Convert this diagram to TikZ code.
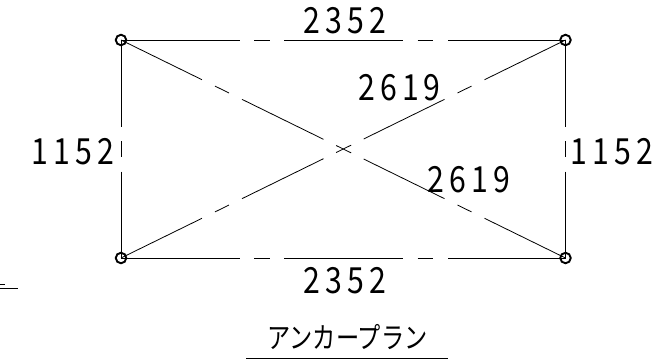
\documentclass[tikz,border=0pt]{standalone}
\usepackage{fontspec}
\setmainfont{Liberation Sans}
\newfontfamily\dimfont[LetterSpace=14,FakeStretch=0.84]{Noto Sans CJK JP}
\newfontfamily\titlefont[FakeStretch=0.8]{Noto Sans CJK JP}
\tikzset{
    anchorpt/.style={draw=black,circle,line width=1.9pt,minimum size=10.5pt,inner sep=0pt},
    dimtext/.style={inner sep=0pt,font=\dimfont\fontsize{36}{36}\selectfont},
    sideline/.style={line width=0.9pt,dash pattern=on 118.5pt off 14.5pt on 16pt off 14pt on 119pt off 14.5pt on 15.5pt off 15pt on 120pt},
    endline/.style={line width=0.9pt,dash pattern=on 86.5pt off 14.5pt on 16pt off 14.5pt on 120pt},
    diagline/.style={line width=0.8pt,dash pattern=on 90.2pt off 14.5pt on 15.6pt off 14.5pt on 90.8pt off 14pt on 16.7pt off 14pt on 90pt off 14.5pt on 15.6pt off 14.5pt on 120pt},
}
\begin{document}
\begin{tikzpicture}[x=1pt,y=-1pt]
    \useasboundingbox (0,0) rectangle (669,360);

    \foreach \name/\x/\y in {tl/121/40,tr/565.5/40,bl/121/258,br/565.5/258}
        \node[anchorpt] (\name) at (\x,\y) {};

    \draw[sideline] (tl.center) -- (tr.center);
    \draw[sideline] (bl.center) -- (br.center);
    \draw[endline] (tl.center) -- (bl.center);
    \draw[endline] (tr.center) -- (br.center);
    \draw[diagline] (tl.center) -- (br.center);
    \draw[diagline] (bl.center) -- (tr.center);

    \node[dimtext] (topdim) at (345,21) {2352};
    \node[dimtext] (botdim) at (345,280.5) {2352};
    \node[dimtext] (leftdim) at (73,151.5) {1152};
    \node[dimtext] (rightdim) at (612,151.5) {1152};
    \node[dimtext] (upperdiag) at (399.5,87.5) {2619};
    \node[dimtext] (lowerdiag) at (469,180) {2619};

    \node[inner sep=0pt,font=\titlefont\fontsize{29}{29}\selectfont] (plantitle) at (347.5,337) {アンカープラン};
    \coordinate (titleleft) at (246,358.5);
    \coordinate (titleright) at (448,358.5);
    \draw[line width=1.6pt] (titleleft) -- (titleright);

    \coordinate (stubleft) at (0,288);
    \coordinate (stubright) at (18,288);
    \draw[line width=0.9pt] (stubleft) -- (stubright);
    \coordinate (marka) at (0,284.5);
    \coordinate (markb) at (5,284.5);
    \draw[line width=1.6pt] (marka) -- (markb);
\end{tikzpicture}
\end{document}
